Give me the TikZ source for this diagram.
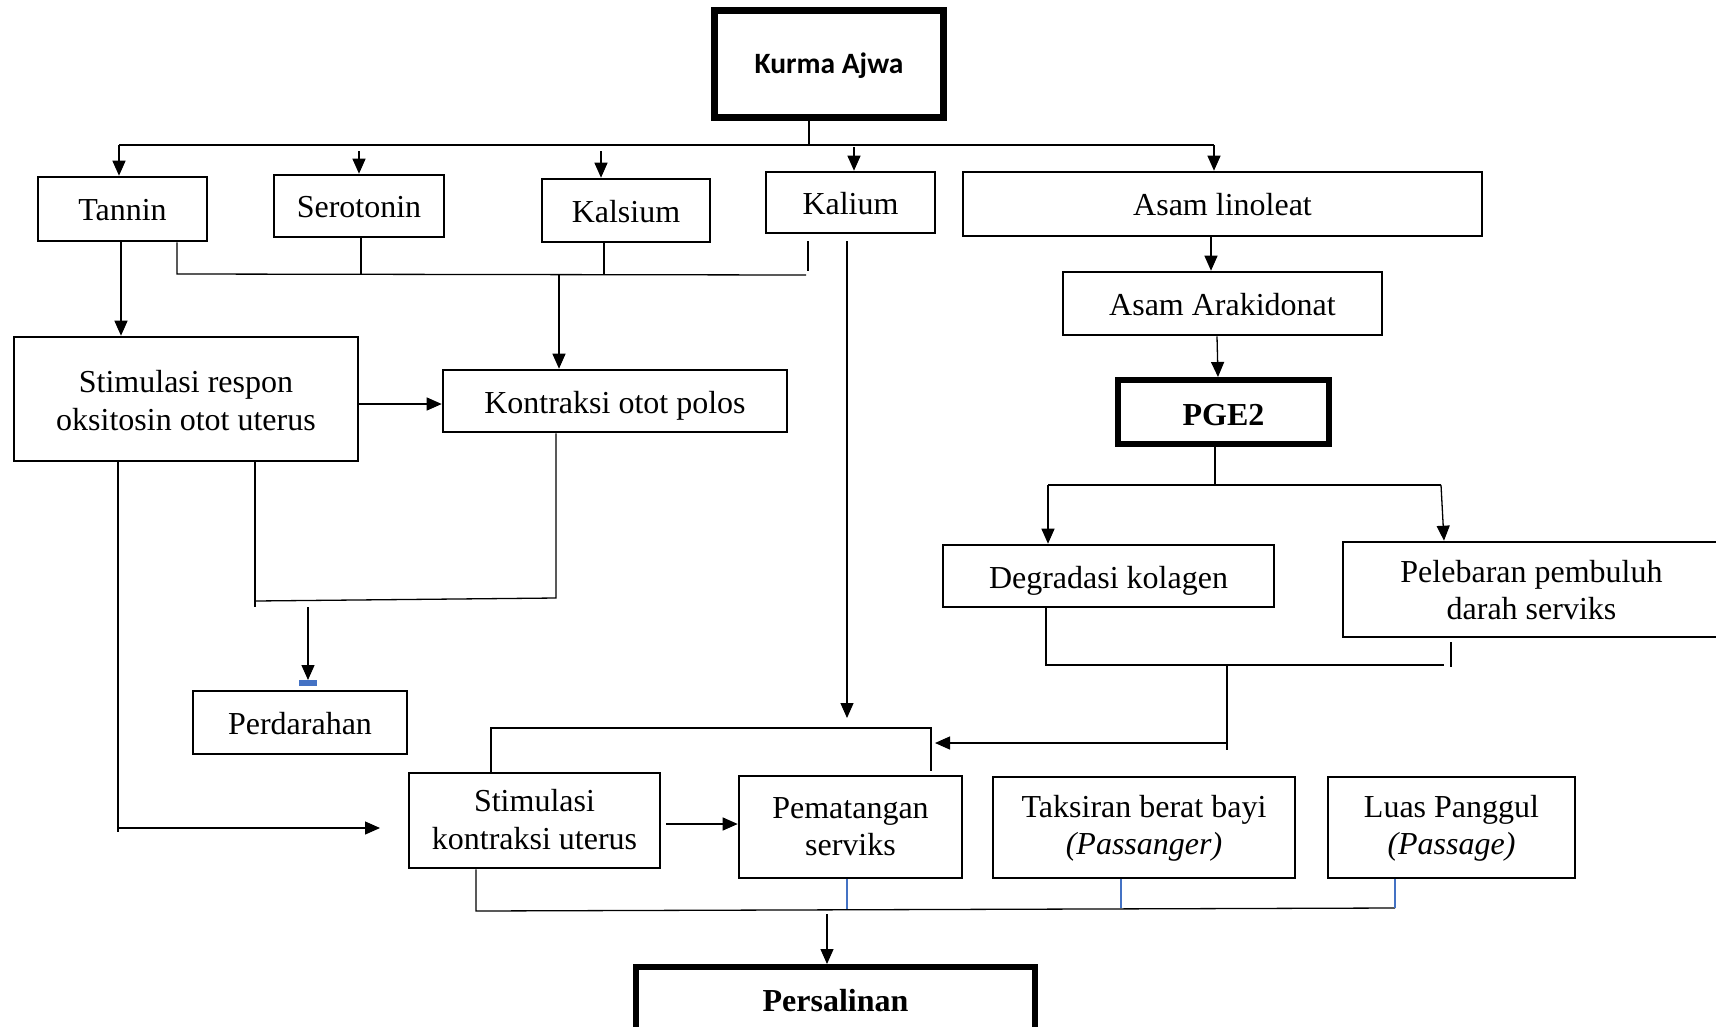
\documentclass[tikz,border=0pt]{standalone}
\usepackage{fontspec}
\setmainfont{Liberation Serif}
\newfontfamily\calibrifont{Carlito}
\usetikzlibrary{arrows.meta}
\definecolor{wordblue}{RGB}{68,114,196}
\newcommand\oneL[2][11]{\raisebox{-#1pt}[0pt][0pt]{#2}}
\newcommand\twoL[3][30]{\raisebox{-#1pt}[0pt][0pt]{\begin{tabular}[b]{@{}c@{}}#2\\#3\end{tabular}}}
\begin{document}
\begin{tikzpicture}[x=1pt,y=-1pt,
  box/.style={draw, line width=2.6pt, inner sep=0pt, font=\fontsize{32}{37.5}\selectfont},
  thickbox/.style={box, line width=6.5pt},
  sz/.style 2 args={minimum width=#1pt, minimum height=#2pt},
  ln/.style={line width=1.3pt},
  blueln/.style={line width=1.1pt, wordblue},
  arr/.style={line width=1.3pt, -{Triangle[width=13pt,length=15pt]}}]
\useasboundingbox (0,0) rectangle (1716,1026);
\clip (0,0) rectangle (1716,1026);
\fill[white] (0,0) rectangle (1716,1026);

% ---------- nodes ----------
\node[thickbox, sz={229}{107}, font=\calibrifont\bfseries\fontsize{29.5}{35}\selectfont] (kurma) at (829,64) {\oneL[9.5]{Kurma Ajwa}};
\node[box, sz={169}{64}] (tannin) at (122.5,209) {\oneL{Tannin}};
\node[box, sz={170}{62}] (serotonin) at (359,206) {\oneL{Serotonin}};
\node[box, sz={168}{63}] (kalsium) at (626,210.5) {\oneL[11.5]{Kalsium}};
\node[box, sz={169}{61}] (kalium) at (850.5,202.5) {\oneL[11.5]{Kalium}};
\node[box, sz={519}{64}] (linoleat) at (1222.5,204) {\oneL{Asam linoleat}};
\node[box, sz={319}{63}] (arakidonat) at (1222.5,303.5) {\oneL[11.5]{Asam Arakidonat}};
\node[thickbox, line width=6pt, sz={211}{64}, font=\bfseries\fontsize{32}{37.5}\selectfont] (pge2) at (1223.5,412) {\oneL[13]{PGE2}};
\node[box, sz={331}{62}] (degradasi) at (1108.5,576) {\oneL[12]{Degradasi kolagen}};
\node[box, sz={377}{95}] (pelebaran) at (1531.5,589.5) {\twoL[30.25]{Pelebaran pembuluh}{darah serviks}};
\node[box, sz={344}{124}] (stimrespon) at (186,399) {\twoL[31]{Stimulasi respon}{oksitosin otot uterus}};
\node[box, sz={344}{62}] (kontraksi) at (615,401) {\oneL[12]{Kontraksi otot polos}};
\node[box, sz={214}{63}] (perdarahan) at (300,722.5) {\oneL[11.5]{Perdarahan}};
\node[box, sz={251}{95}] (stimkontr) at (534.5,820.5) {\twoL[28.5]{Stimulasi}{kontraksi uterus}};
\node[box, sz={223}{102}] (pematangan) at (850.5,827) {\twoL[28.5]{Pematangan}{serviks}};
\node[box, sz={302}{101}] (taksiran) at (1144,827.5) {\twoL[27]{Taksiran berat bayi}{\itshape(Passanger)}};
\node[box, sz={247}{101}] (luas) at (1451.5,827.5) {\twoL[27]{Luas Panggul}{\itshape(Passage)}};
\node[thickbox, line width=6pt, sz={399}{69}, font=\bfseries\fontsize{32}{37.5}\selectfont] (persalinan) at (835.5,1001.5) {\oneL[10]{Persalinan}};

% ---------- top bus ----------
\coordinate (kv) at (809,145);
\coordinate (busL) at (119,145);
\coordinate (busR) at (1214,145);
\coordinate (aS) at (359,151);
\coordinate (aKs) at (601,151);
\coordinate (aKl) at (854,147);
\draw[ln] (kurma.south -| kv) -- (kv);
\draw[ln] (busL) -- (busR);
\draw[arr] (busL) -- (tannin.north -| busL);
\draw[arr] (aS) -- (serotonin.north -| aS);
\draw[arr] (aKs) -- (kalsium.north -| aKs);
\draw[arr] (aKl) -- (kalium.north -| aKl);
\draw[arr] (busR) -- (linoleat.north -| busR);

% ---------- second bus to Kontraksi ----------
\coordinate (b2L) at (177,274);
\coordinate (b2R) at (806,275);
\coordinate (b2M) at (559,274.5);
\coordinate (sv) at (361,274);
\coordinate (ksv) at (604,274);
\coordinate (klTop) at (808,241);
\coordinate (klBot) at (808,271);
\draw[ln] (tannin.south -| b2L) -- (b2L) -- (b2R);
\draw[ln] (serotonin.south -| sv) -- (sv);
\draw[ln] (kalsium.south -| ksv) -- (ksv);
\draw[ln] (klTop) -- (klBot);
\draw[arr] (b2M) -- (kontraksi.north -| b2M);

% ---------- Tannin -> Stimulasi respon -> Kontraksi ----------
\coordinate (tx) at (121,0);
\draw[arr] (tannin.south -| tx) -- (stimrespon.north -| tx);
\coordinate (ky) at (0,404);
\draw[arr] (stimrespon.east |- ky) -- (kontraksi.west |- ky);

% ---------- Kalium long arrow ----------
\coordinate (kaTop) at (847,241);
\coordinate (kaEnd) at (847,718);
\draw[arr] (kaTop) -- (kaEnd);

% ---------- Stimulasi respon down ----------
\coordinate (slB) at (118,832);
\coordinate (sl1) at (118,828);
\coordinate (sl2) at (380,828);
\draw[ln] (stimrespon.south -| slB) -- (slB);
\draw[arr] (sl1) -- (sl2);
\coordinate (m1) at (255,607);
\coordinate (m2) at (255,601);
\coordinate (m3) at (556,598);
\draw[ln] (stimrespon.south -| m1) -- (m1);
\draw[ln] (m2) -- (m3) -- (kontraksi.south -| m3);
\coordinate (pd) at (308,607);
\coordinate (pdEnd) at (308,680);
\draw[arr] (pd) -- (pdEnd);
\fill[wordblue] (299,680) rectangle (317,686);

% ---------- right branch ----------
\coordinate (ax1) at (1211,0);
\draw[arr] (linoleat.south -| ax1) -- (arakidonat.north -| ax1);
\coordinate (ax2) at (1217,0);
\coordinate (ax3) at (1218,0);
\draw[arr] (arakidonat.south -| ax2) -- (pge2.north -| ax3);
\coordinate (pv) at (1215,485);
\coordinate (pL) at (1048,485);
\coordinate (pR) at (1441,485);
\coordinate (pRe) at (1444,0);
\draw[ln] (pge2.south -| pv) -- (pv);
\draw[ln] (pL) -- (pR);
\draw[arr] (pL) -- (degradasi.north -| pL);
\draw[arr] (pR) -- (pelebaran.north -| pRe);
\coordinate (dL) at (1046,665);
\coordinate (dR) at (1444,665);
\coordinate (pbTop) at (1451,642);
\coordinate (pbBot) at (1451,667);
\draw[ln] (degradasi.south -| dL) -- (dL) -- (dR);
\draw[ln] (pbTop) -- (pbBot);
\coordinate (mv) at (1227,665);
\coordinate (mvB) at (1227,750);
\coordinate (mh) at (1227,743);
\coordinate (mhEnd) at (935,743);
\draw[ln] (mv) -- (mvB);
\draw[arr] (mh) -- (mhEnd);

% ---------- bracket above Stimulasi kontraksi / Pematangan ----------
\coordinate (brL) at (491,728);
\coordinate (brR) at (931,728);
\coordinate (brRb) at (931,771);
\draw[ln] (stimkontr.north -| brL) -- (brL) -- (brR) -- (brRb);

% ---------- Stimulasi kontraksi -> Pematangan ----------
\coordinate (sk1) at (666,824);
\draw[arr] (sk1) -- (pematangan.west |- sk1);

% ---------- bottom bus to Persalinan ----------
\coordinate (bL) at (476,911);
\coordinate (bR) at (1395,908);
\draw[ln] (stimkontr.south -| bL) -- (bL) -- (bR);
\coordinate (bp) at (847,909);
\coordinate (bt) at (1121,908);
\coordinate (bl) at (1395,908);
\draw[blueln] (pematangan.south -| bp) -- (bp);
\draw[blueln] (taksiran.south -| bt) -- (bt);
\draw[blueln] (luas.south -| bl) -- (bl);
\coordinate (ps) at (827,914);
\draw[arr] (ps) -- (persalinan.north -| ps);
\end{tikzpicture}
\end{document}
